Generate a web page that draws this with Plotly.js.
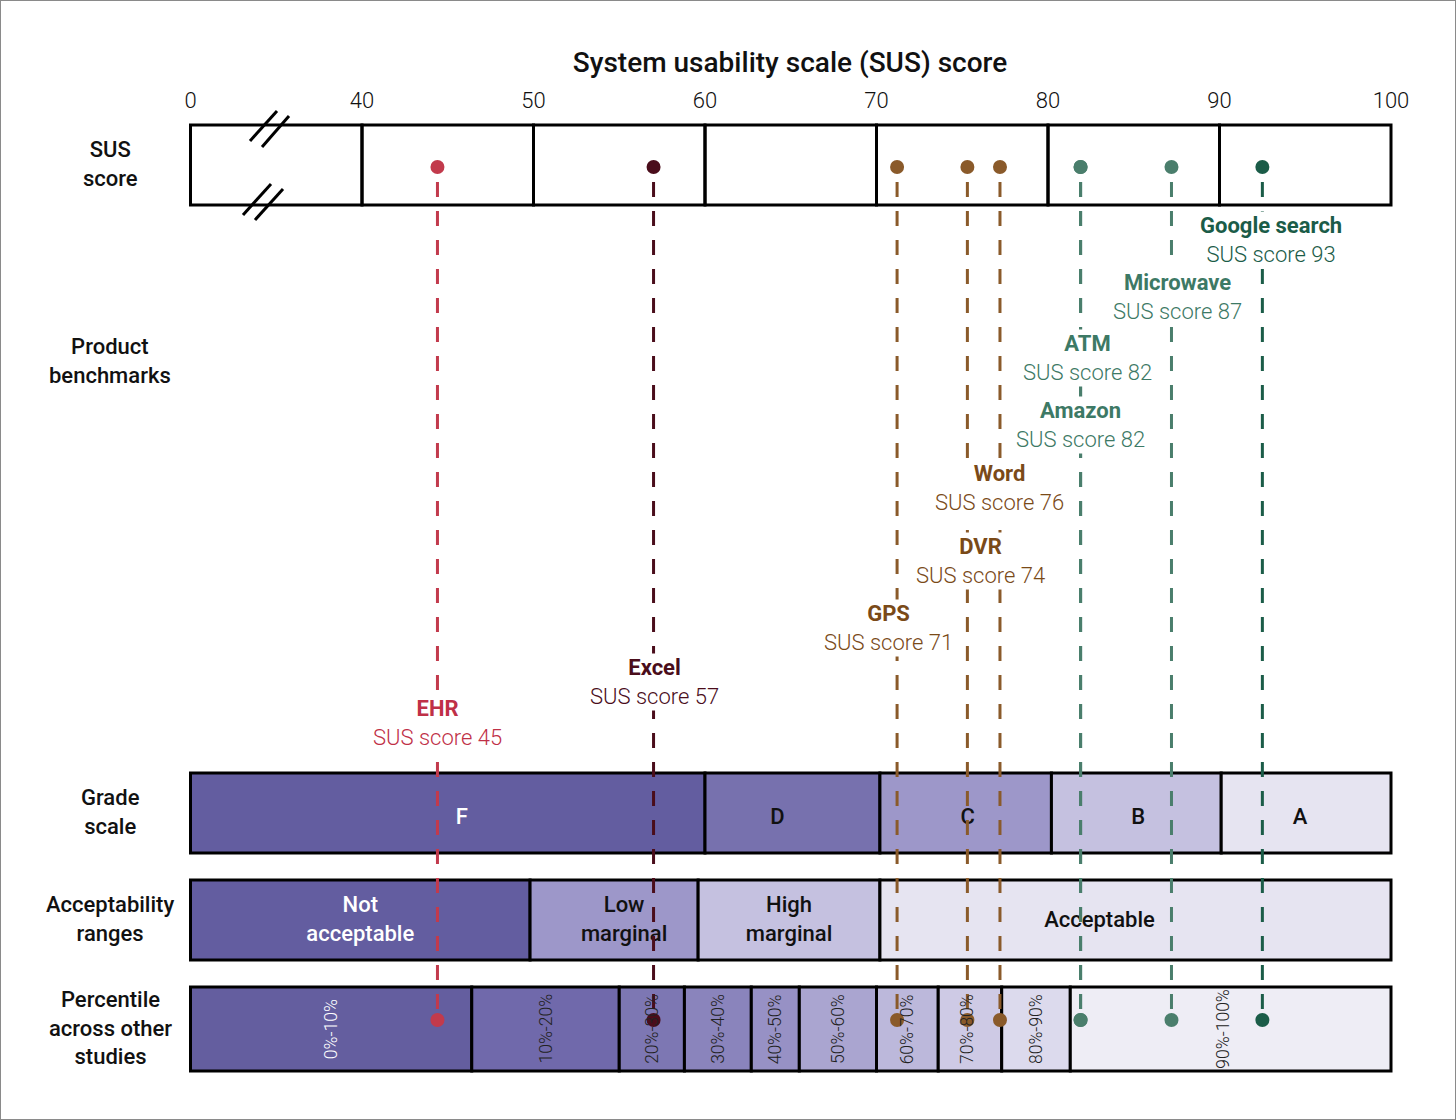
<!DOCTYPE html>
<html><head><meta charset="utf-8">
<script src="https://cdn.plot.ly/plotly-3.0.1.min.js"></script>
<style>html,body{margin:0;padding:0;background:#fff}#chart{width:1456px;height:1120px}</style>
</head><body><div id="chart"></div>
<script>
// ---------- DATA ----------
const products = ['EHR', 'Excel', 'GPS', 'DVR', 'Word', 'Amazon', 'ATM', 'Microwave', 'Google search'];
const susScores = [45, 57, 71, 74, 76, 82, 82, 87, 93];            // labelled score
const markerScores = [44.4, 57.0, 71.2, 75.3, 77.2, 81.9, 81.9, 87.2, 92.5]; // dot positions as drawn

const axisTicks = [0, 40, 50, 60, 70, 80, 90, 100];
const axisTickText = ['0', '40', '50', '60', '70', '80', '90', '100'];

const gradeLetters = ['F', 'D', 'C', 'B', 'A'];
const gradeEdges = [0, 60, 70.2, 80.2, 90.1, 100];

const acceptLabels = ['Not<br>acceptable', 'Low<br>marginal', 'High<br>marginal', 'Acceptable'];
const acceptEdges = [0, 49.8, 59.6, 70.2, 100];

const percentileLabels = ['0%-10%', '10%-20%', '20%-30%', '30%-40%', '40%-50%', '50%-60%', '60%-70%', '70%-80%', '80%-90%', '90%-100%'];
const percentileEdges = [0, 46.4, 55.0, 58.8, 62.7, 65.5, 70.0, 73.6, 77.3, 81.3, 100];

// ---------- STYLE / LAYOUT ----------
const productColors = ['#c23a4c', '#4a0d1b', '#8a5a2a', '#8a5a2a', '#8a5a2a', '#4a7e6c', '#4a7e6c', '#4a7e6c', '#1b5c48'];
const labelColors   = ['#bf3047', '#4a0d1b', '#7a4a18', '#7a4a18', '#7a4a18', '#3d7965', '#3d7965', '#3d7965', '#1b5c48'];
const labelY        = [723, 682, 628, 561, 488, 425, 358, 297, 240];
const labelShift    = [0, 1, -9, 13, 0, 0, 7, 6, 9];

const gradeFill = ['#635da0', '#7771ae', '#9d97c9', '#c5c1e0', '#e6e4f1'];
const gradeText = ['#ffffff', '#111111', '#111111', '#111111', '#111111'];
const gradeTextShift = [14, -15, 2, 2, -6];
const acceptFill = ['#635da0', '#9d97c9', '#c5c1e0', '#e6e4f1'];
const acceptText = ['#ffffff', '#111111', '#111111', '#111111'];
const acceptTextShift = [0, 10, 0, -36];
const percFill = ['#645e9f', '#7069ab', '#7d77b3', '#8a84bc', '#9791c5', '#aaa5d0', '#bcb8db', '#cecae5', '#dcdaed', '#eeedf5'];
const percText = ['#ffffff', '#222222', '#222222', '#222222', '#222222', '#222222', '#222222', '#222222', '#222222', '#222222'];
const percTextShift = [0, 0, 0, 0, 0, 0, 0, -3, 0, -8];

const W = 1456, H = 1120;
const PX40 = 362, PX100 = 1391;
const K = (PX100 - PX40) / 60;           // px per SUS point
// broken axis: 0..40 compressed into one 10-point wide interval
function toAxis(v) { return v < 40 ? 30 + v * 10 / 40 : v; }
function pxToAxis(px) { return 40 + (px - PX40) / K; }
const xRange = [pxToAxis(0), pxToAxis(W)];

const rowSUS = [125, 205], dotTopY = 167;
const rowGrade = [773, 853];
const rowAccept = [880, 960];
const rowPerc = [987, 1071];
const dotBottomY = 1020;

const FONT = 'Roboto, "Open Sans", sans-serif';

const shapes = [];
const annotations = [];
const traces = [];

function rect(x0, x1, y0, y1, fill, lw) {
  shapes.push({type: 'rect', xref: 'x', yref: 'y', layer: 'below',
    x0: toAxis(x0), x1: toAxis(x1), y0: y0, y1: y1,
    fillcolor: fill, line: {color: '#000', width: lw}});
}

// top SUS box
for (let i = 0; i < axisTicks.length - 1; i++) rect(axisTicks[i], axisTicks[i + 1], rowSUS[0], rowSUS[1], 'rgba(0,0,0,0)', 3);
// axis break marks
const breaks = [[250, 141, 277, 111], [262, 147, 289, 116], [243, 215, 271, 184], [255, 220, 283, 189]];
breaks.forEach(b => shapes.push({type: 'line', xref: 'x', yref: 'y', layer: 'above',
  x0: pxToAxis(b[0]), y0: b[1], x1: pxToAxis(b[2]), y1: b[3], line: {color: '#000', width: 3}}));

// grade row
gradeLetters.forEach((g, i) => rect(gradeEdges[i], gradeEdges[i + 1], rowGrade[0], rowGrade[1], gradeFill[i], 3));
// acceptability row
acceptLabels.forEach((g, i) => rect(acceptEdges[i], acceptEdges[i + 1], rowAccept[0], rowAccept[1], acceptFill[i], 3));
// percentile row
percentileLabels.forEach((g, i) => rect(percentileEdges[i], percentileEdges[i + 1], rowPerc[0], rowPerc[1], percFill[i], 3));

// bar texts (as trace so dashed lines sit on top)
function mid(edges, i) { return (toAxis(edges[i]) + toAxis(edges[i + 1])) / 2; }
traces.push({type: 'scatter', mode: 'text', hoverinfo: 'skip', showlegend: false,
  x: gradeLetters.map((g, i) => mid(gradeEdges, i) + gradeTextShift[i] / K),
  y: gradeLetters.map(() => (rowGrade[0] + rowGrade[1]) / 2 + 5),
  text: gradeLetters,
  textfont: {family: FONT, size: 22, weight: 500, color: gradeText}});
traces.push({type: 'scatter', mode: 'text', hoverinfo: 'skip', showlegend: false,
  x: acceptLabels.map((g, i) => mid(acceptEdges, i) + acceptTextShift[i] / K),
  y: acceptLabels.map(() => (rowAccept[0] + rowAccept[1]) / 2 + 1),
  text: acceptLabels,
  textfont: {family: FONT, size: 22, weight: 500, color: acceptText}});

// percentile labels (rotated)
percentileLabels.forEach((p, i) => annotations.push({
  x: mid(percentileEdges, i) + percTextShift[i] / K, y: 1029, xref: 'x', yref: 'y',
  xanchor: 'center', yanchor: 'middle',
  text: p, showarrow: false, textangle: -90,
  font: {family: FONT, size: 17.5, weight: 300, color: percText[i]}}));

// dashed lines and dots
products.forEach((p, i) => {
  traces.push({type: 'scatter', mode: 'lines', hoverinfo: 'skip', showlegend: false,
    x: [markerScores[i], markerScores[i]], y: [182, dotBottomY],
    line: {color: productColors[i], width: 3, dash: '15px,14px'}});
});
traces.push({type: 'scatter', mode: 'markers', hoverinfo: 'skip', showlegend: false,
  x: markerScores.concat(markerScores),
  y: markerScores.map(() => dotTopY).concat(markerScores.map(() => dotBottomY)),
  marker: {size: 14, color: productColors.concat(productColors), line: {width: 0}}});

// product labels
products.forEach((p, i) => annotations.push({
  x: markerScores[i], y: labelY[i], xref: 'x', yref: 'y', xshift: labelShift[i],
  xanchor: 'center', yanchor: 'middle',
  text: '<b>' + p + '</b><br>SUS score ' + susScores[i], showarrow: false,
  bgcolor: '#ffffff', borderpad: 1, align: 'center',
  font: {family: FONT, size: 22, weight: 300, color: labelColors[i]}}));

// row labels
const rowLabels = [['SUS<br>score', 164], ['Product<br>benchmarks', 361], ['Grade<br>scale', 812], ['Acceptability<br>ranges', 919], ['Percentile<br>across other<br>studies', 1028]];
rowLabels.forEach(r => annotations.push({
  x: 110 / W, y: r[1], xref: 'paper', yref: 'y', xanchor: 'center', yanchor: 'middle',
  text: r[0], showarrow: false, align: 'center',
  font: {family: FONT, size: 22, weight: 500, color: '#111'}}));

// outer frame
shapes.push({type: 'rect', xref: 'paper', yref: 'paper', x0: 0, x1: 1, y0: 0, y1: 1,
  line: {color: '#8a8a8a', width: 2}, fillcolor: 'rgba(0,0,0,0)'});

const layout = {
  width: W, height: H, margin: {l: 0, r: 0, t: 0, b: 0},
  paper_bgcolor: '#fff', plot_bgcolor: '#fff', showlegend: false,
  title: {text: 'System usability scale (SUS) score', x: 790 / W, xanchor: 'center', xref: 'paper',
    y: 1 - 62 / H, yanchor: 'middle', yref: 'paper',
    font: {family: FONT, size: 28, weight: 500, color: '#111'}},
  xaxis: {range: xRange, side: 'top', anchor: 'free', position: 1 - rowSUS[0] / H,
    tickmode: 'array', tickvals: axisTicks.map(toAxis), ticktext: axisTickText,
    showgrid: false, zeroline: false, showline: false, ticks: '', ticklabelstandoff: 13,
    tickfont: {family: FONT, size: 22, weight: 300, color: '#111'}, fixedrange: true},
  yaxis: {range: [H, 0], visible: false, showgrid: false, zeroline: false, fixedrange: true},
  shapes: shapes, annotations: annotations
};
Plotly.newPlot('chart', traces, layout, {staticPlot: true});
</script></body></html>
